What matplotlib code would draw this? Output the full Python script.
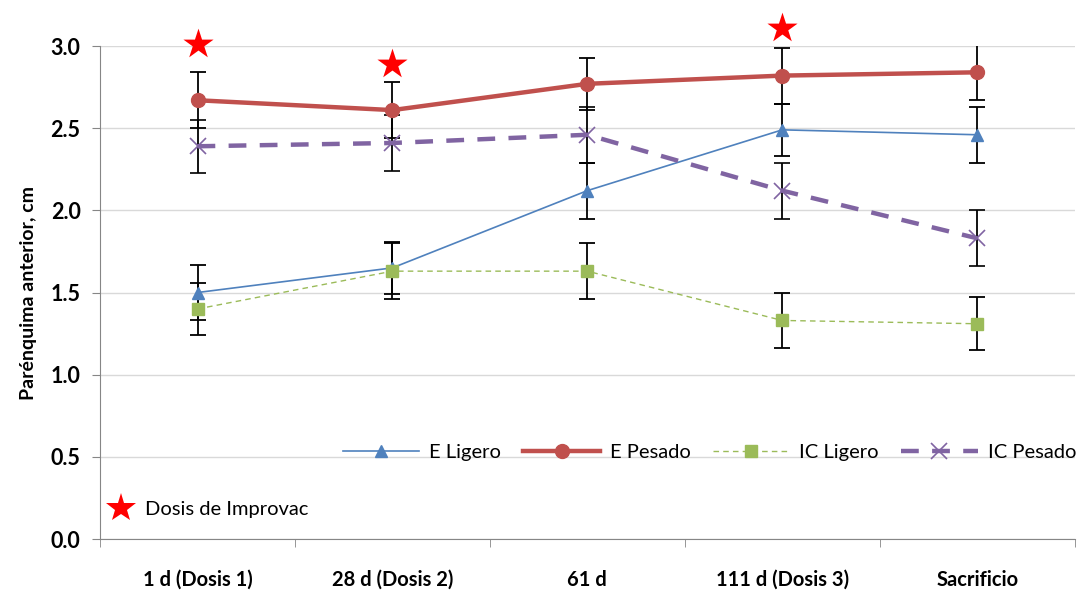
import matplotlib
matplotlib.use("Agg")
import matplotlib.pyplot as plt
from matplotlib.lines import Line2D

plt.rcParams['font.family'] = ['Lato', 'DejaVu Sans']

categorias = ["1 d (Dosis 1)", "28 d (Dosis 2)", "61 d", "111 d (Dosis 3)", "Sacrificio"]

e_ligero = [1.50, 1.65, 2.12, 2.49, 2.46]
e_ligero_err = [0.17, 0.16, 0.17, 0.16, 0.17]
e_pesado = [2.67, 2.61, 2.77, 2.82, 2.84]
e_pesado_err = [0.17, 0.17, 0.16, 0.17, 0.17]
ic_ligero = [1.40, 1.63, 1.63, 1.33, 1.31]
ic_ligero_err = [0.16, 0.17, 0.17, 0.17, 0.16]
ic_pesado = [2.39, 2.41, 2.46, 2.12, 1.83]
ic_pesado_err = [0.16, 0.17, 0.17, 0.17, 0.17]

# dosis de Improvac: posicion de la estrella sobre cada fecha
dosis_x = [0, 1, 3]
dosis_y = [3.01, 2.89, 3.11]

x = list(range(len(categorias)))

fig = plt.figure(figsize=(10.91, 5.90), dpi=100)
ax = fig.add_axes([0.0917, 0.0864, 0.8933, 0.8356])

err_kw = dict(ecolor="black", elinewidth=1.3, capsize=5.5, capthick=1.3)

h1 = ax.errorbar(x, e_ligero, yerr=e_ligero_err, color="#4F81BD", lw=1.2,
                 marker="^", ms=8, label="E Ligero", zorder=3, **err_kw)
h2 = ax.errorbar(x, e_pesado, yerr=e_pesado_err, color="#C0504D", lw=3.2,
                 marker="o", ms=10, label="E Pesado", zorder=3, **err_kw)
h3 = ax.errorbar(x, ic_ligero, yerr=ic_ligero_err, color="#9BBB59", lw=1.0,
                 ls=(0, (4, 3)), marker="s", ms=8, label="IC Ligero", zorder=3, **err_kw)
h4 = ax.errorbar(x, ic_pesado, yerr=ic_pesado_err, color="#8064A2", lw=3.2,
                 ls=(0, (4, 3)), marker="x", ms=11, mew=1.2, label="IC Pesado", zorder=3, **err_kw)

star = ax.scatter(dosis_x, dosis_y, marker="*", s=520, color="#FF0000",
                  linewidths=0, zorder=5, clip_on=False)

ax.set_xlim(-0.5, len(categorias) - 0.5)
ax.set_ylim(0, 3.0)
ax.set_yticks([0, 0.5, 1.0, 1.5, 2.0, 2.5, 3.0])
ax.set_yticklabels(["0.0", "0.5", "1.0", "1.5", "2.0", "2.5", "3.0"])
ax.yaxis.grid(True, color="#D9D9D9", lw=1)
ax.set_axisbelow(True)

ax.set_xticks(x)
ax.set_xticklabels(categorias, fontweight="bold", fontsize=14.5)
ax.set_xticks([i - 0.5 for i in range(len(categorias) + 1)], minor=True)
ax.tick_params(axis="x", which="major", length=0, pad=22)
ax.tick_params(axis="x", which="minor", length=6, color="#868686")
ax.tick_params(axis="y", length=6, color="#868686", labelsize=15.5, pad=8)
for lab in ax.get_yticklabels():
    lab.set_fontweight("bold")

ax.set_ylabel("Parénquima anterior, cm", fontsize=14, fontweight="bold", labelpad=10)

for s in ["top", "right"]:
    ax.spines[s].set_visible(False)
for s in ["left", "bottom"]:
    ax.spines[s].set_color("#868686")

leg1 = ax.legend(handles=[h1[0], h2[0], h3[0], h4[0]],
                 labels=["E Ligero", "E Pesado", "IC Ligero", "IC Pesado"],
                 ncol=4, loc="center right", bbox_to_anchor=(1.02, 0.176),
                 frameon=False, fontsize=14.5, handlelength=3.8, columnspacing=1.1,
                 handletextpad=0.5)
ax.add_artist(leg1)
star_handle = Line2D([], [], ls="none", marker="*", ms=22, color="#FF0000", mew=0)
ax.legend(handles=[star_handle], labels=["Dosis de Improvac"],
          loc="center left", bbox_to_anchor=(-0.018, 0.059), frameon=False,
          fontsize=14.5, handletextpad=0.2)

fig.savefig("out.png", dpi=100)
